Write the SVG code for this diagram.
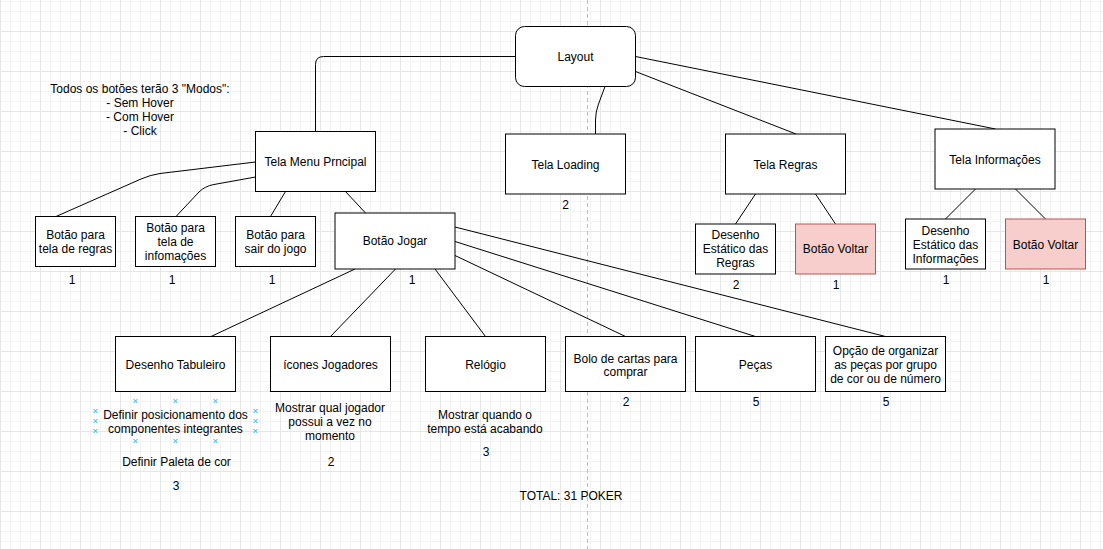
<svg xmlns="http://www.w3.org/2000/svg" xmlns:xlink="http://www.w3.org/1999/xlink" width="1103" height="549" viewBox="0 0 1103 549">
<style>
text{font-family:"Liberation Sans",Arial,Helvetica,sans-serif;font-size:12px;fill:#000;text-anchor:middle}
.box{fill:#fff;stroke:#000;stroke-width:1}
.red{fill:#f8cecc;stroke:#b85450;stroke-width:1}
.edge{fill:none;stroke:#000;stroke-width:1}
.hx{fill:none;stroke:#29b6f2;stroke-width:1}
</style>
<defs>
<pattern id="minor" width="10" height="10" patternUnits="userSpaceOnUse" x="0" y="1">
<path d="M0.5 0V10M0 0.5H10" stroke="#f3f3f3" stroke-width="1" fill="none"/>
</pattern>
<pattern id="major" width="40" height="40" patternUnits="userSpaceOnUse" x="0" y="-9">
<path d="M0.5 0V40M0 0.5H40" stroke="#e6e6e6" stroke-width="1" fill="none"/>
</pattern>
<path id="hx" d="M-2 -2L2 2M2 -2L-2 2"/>
</defs>
<rect width="1103" height="549" fill="#fff"/>
<rect width="1103" height="549" fill="url(#minor)"/>
<rect width="1103" height="549" fill="url(#major)"/>
<line x1="587.5" y1="0" x2="587.5" y2="549" stroke="#bdbdbd" stroke-width="1" stroke-dasharray="4 3"/>

<g id="connectors">
<path class="edge" d="M515.5 56.5L323.5 56.5Q315.5 56.5 315.5 64.5L315.5 131.5"/>
<path class="edge" d="M605 86.5L598.5 104Q595.5 112 595.5 120L595.5 134"/>
<path class="edge" d="M635.5 71.5L796 134"/>
<path class="edge" d="M635.5 56.5L995.5 129"/>
<path class="edge" d="M255.5 162L160 173.5Q150 175 141 179L56 216.5"/>
<path class="edge" d="M255.5 177L214 184.5Q205 186 199 192L176 216.5"/>
<path class="edge" d="M285.5 191.5L270.5 216.5"/>
<path class="edge" d="M345.5 191.5L365.5 213"/>
<path class="edge" d="M355 269L211 336.5"/>
<path class="edge" d="M395.5 269L330.5 336.5"/>
<path class="edge" d="M435 269L485.5 336.5"/>
<path class="edge" d="M455 255.5L625.5 336.5"/>
<path class="edge" d="M455 241.5L755.5 336.5"/>
<path class="edge" d="M455 227L885.5 336.5"/>
<path class="edge" d="M755.5 194L735.5 224"/>
<path class="edge" d="M815.5 194L835.5 224"/>
<path class="edge" d="M975.5 189L945.5 219"/>
<path class="edge" d="M1015.5 189L1045.5 219"/>
</g>

<g id="note">
<text x="140" y="93">Todos os botões terão 3 "Modos":</text>
<text x="140" y="107">- Sem Hover</text>
<text x="140" y="121">- Com Hover</text>
<text x="140" y="135">- Click</text>
</g>

<g id="layout">
<rect class="box" x="515.5" y="26.5" width="120" height="60" rx="9" ry="9"/>
<text x="575.5" y="60.5">Layout</text>
</g>

<g id="tela-menu">
<rect class="box" x="255.5" y="131.5" width="120" height="60"/>
<text x="315.5" y="165.5">Tela Menu Prncipal</text>
</g>

<g id="tela-loading">
<rect class="box" x="505.5" y="134" width="120" height="60"/>
<text x="565.5" y="168.5">Tela Loading</text>
<text x="565.5" y="209">2</text>
</g>

<g id="tela-regras">
<rect class="box" x="725.5" y="134" width="120" height="60"/>
<text x="785.5" y="168.5">Tela Regras</text>
</g>

<g id="tela-info">
<rect class="box" x="935" y="129" width="120" height="60"/>
<text x="995" y="163.5">Tela Informações</text>
</g>

<g id="desenho-regras">
<rect class="box" x="695.5" y="224" width="80" height="50"/>
<text x="735.5" y="239">Desenho</text>
<text x="735.5" y="253">Estático das</text>
<text x="735.5" y="267">Regras</text>
<text x="736" y="288.5">2</text>
</g>

<g id="voltar-regras">
<rect class="red" x="795.5" y="224" width="80" height="50"/>
<text x="835.5" y="253">Botão Voltar</text>
<text x="836" y="288.5">1</text>
</g>

<g id="desenho-info">
<rect class="box" x="905.5" y="219" width="80" height="50"/>
<text x="945.5" y="234.5">Desenho</text>
<text x="945.5" y="248.5">Estático das</text>
<text x="945.5" y="262.5">Informações</text>
<text x="946" y="284">1</text>
</g>

<g id="voltar-info">
<rect class="red" x="1005.5" y="219" width="80" height="50"/>
<text x="1045.5" y="248.5">Botão Voltar</text>
<text x="1046" y="284">1</text>
</g>

<g id="btn-regras">
<rect class="box" x="35.5" y="216.5" width="80" height="50"/>
<text x="75.5" y="239">Botão para</text>
<text x="75.5" y="253">tela de regras</text>
<text x="72" y="284">1</text>
</g>

<g id="btn-info">
<rect class="box" x="135.5" y="216.5" width="80" height="50"/>
<text x="175.5" y="232">Botão para</text>
<text x="175.5" y="246">tela de</text>
<text x="175.5" y="260">infomações</text>
<text x="172" y="284">1</text>
</g>

<g id="btn-sair">
<rect class="box" x="235.5" y="216.5" width="80" height="50"/>
<text x="275.5" y="239">Botão para</text>
<text x="275.5" y="253">sair do jogo</text>
<text x="272" y="284">1</text>
</g>

<g id="btn-jogar">
<rect class="box" x="335" y="213" width="120" height="56"/>
<text x="395" y="245">Botão Jogar</text>
<text x="412" y="284">1</text>
</g>

<g id="desenho-tabuleiro">
<rect class="box" x="115.5" y="336.5" width="120" height="55"/>
<text x="175.5" y="368.5">Desenho Tabuleiro</text>
<text x="175.5" y="419">Definir posicionamento dos</text>
<text x="175.5" y="433">componentes integrantes</text>
<g class="hx">
<use xlink:href="#hx" x="135.5" y="401"/>
<use xlink:href="#hx" x="175.5" y="401"/>
<use xlink:href="#hx" x="215.5" y="401"/>
<use xlink:href="#hx" x="135.5" y="441"/>
<use xlink:href="#hx" x="175.5" y="441"/>
<use xlink:href="#hx" x="215.5" y="441"/>
<use xlink:href="#hx" x="95.5" y="411"/>
<use xlink:href="#hx" x="95.5" y="421"/>
<use xlink:href="#hx" x="95.5" y="431"/>
<use xlink:href="#hx" x="255.5" y="411"/>
<use xlink:href="#hx" x="255.5" y="421"/>
<use xlink:href="#hx" x="255.5" y="431"/>
</g>
<text x="176.5" y="466">Definir Paleta de cor</text>
<text x="176" y="490">3</text>
</g>

<g id="icones">
<rect class="box" x="270.5" y="336.5" width="120" height="55"/>
<text x="330.5" y="368.5">ícones Jogadores</text>
<text x="330" y="412">Mostrar qual jogador</text>
<text x="330" y="426">possui a vez no</text>
<text x="330" y="440">momento</text>
<text x="331" y="466">2</text>
</g>

<g id="relogio">
<rect class="box" x="425.5" y="336.5" width="120" height="55"/>
<text x="485.5" y="368.5">Relógio</text>
<text x="485" y="419">Mostrar quando o</text>
<text x="485" y="433">tempo está acabando</text>
<text x="486" y="456">3</text>
</g>

<g id="bolo">
<rect class="box" x="565.5" y="336.5" width="120" height="55"/>
<text x="625.5" y="362.5">Bolo de cartas para</text>
<text x="625.5" y="376">comprar</text>
<text x="626" y="406">2</text>
</g>

<g id="pecas">
<rect class="box" x="695.5" y="336.5" width="120" height="55"/>
<text x="755.5" y="368.5">Peças</text>
<text x="756" y="406">5</text>
</g>

<g id="opcao">
<rect class="box" x="825.5" y="336.5" width="120" height="55"/>
<text x="885.5" y="355">Opção de organizar</text>
<text x="885.5" y="369">as peças por grupo</text>
<text x="885.5" y="383">de cor ou de número</text>
<text x="886" y="406">5</text>
</g>

<g id="total">
<text x="571" y="499.5">TOTAL: 31 POKER</text>
</g>
</svg>
